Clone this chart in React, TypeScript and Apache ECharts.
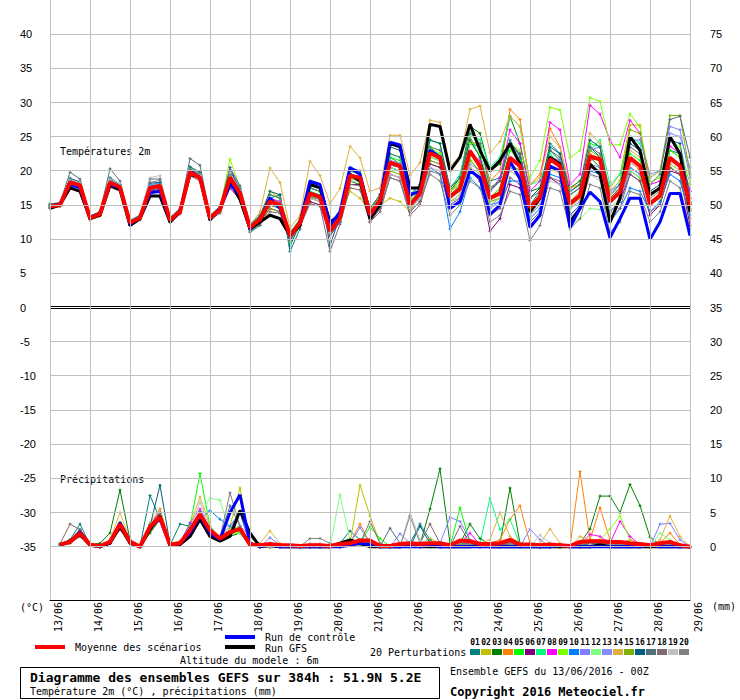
import React, { useEffect, useRef } from "react";
import * as echarts from "echarts";

// ---------- tick labels ----------
const DATE_LABELS = ["13/06", "14/06", "15/06", "16/06", "17/06", "18/06", "19/06", "20/06", "21/06", "22/06", "23/06", "24/06", "25/06", "26/06", "27/06", "28/06", "29/06"];
const DAY_TICKS = [0, 4, 8, 12, 16, 20, 24, 28, 32, 36, 40, 44, 48, 52, 56, 60, 64];
const TEMP_TICKS = [-35, -30, -25, -20, -15, -10, -5, 0, 5, 10, 15, 20, 25, 30, 35, 40];
const PERT_NUMBERS = ["01", "02", "03", "04", "05", "06", "07", "08", "09", "10", "11", "12", "13", "14", "15", "16", "17", "18", "19", "20"];
const PERT_COLORS = ["#008080", "#c0c000", "#008000", "#ff8000", "#00ff00", "#800080", "#00ff80", "#ff00ff", "#80ff00", "#0080ff", "#8080ff", "#80ff80", "#8888ff", "#e0b040", "#80b000", "#006080", "#507078", "#806870", "#c0c0c0", "#808080"];

// ---------- temperature 2m (°C), every 6h from 13/06 00Z (65 values) ----------
const T_MEAN = [14.8,15.0,18.3,17.9, 13.1,13.7,18.3,17.6, 12.4,13.1,17.5,17.8, 12.8,14.0,19.8,19.0, 13.1,14.3,19.0,16.7, 11.7,12.9,15.5,15.0, 10.5,12.4,16.7,16.2, 11.2,13.1,19.3,19.0, 13.6,15.7,21.2,20.7, 15.0,16.7,22.6,21.9, 16.2,17.4,22.9,20.7, 16.0,16.7,21.9,20.7, 14.6,16.2,21.7,20.7, 15.2,16.4,22.1,21.7, 15.5,16.9,21.9,20.7, 15.2,16.4,21.9,20.7, 15.0];
const T_GFS = [14.5,15.0,17.5,17.0, 13.0,13.5,17.8,17.2, 12.0,13.0,16.3,16.3, 12.5,14.0,19.5,19.0, 12.8,14.5,18.5,15.8, 11.5,12.5,13.5,13.0, 10.5,12.0,18.0,17.5, 12.5,13.5,19.5,18.5, 13.0,15.0,24.0,23.5, 17.5,17.5,26.8,26.5, 20.0,22.0,26.8,23.0, 20.0,21.5,24.0,21.0, 14.0,16.0,22.0,21.0, 12.5,14.5,21.0,19.5, 12.5,16.0,25.0,23.0, 16.5,17.5,25.0,22.5, 14.0];
const T_CTRL = [14.8,15.2,18.0,17.5, 13.2,13.8,18.0,17.5, 12.2,13.2,16.8,17.0, 12.8,14.0,20.0,19.0, 13.0,14.5,18.0,16.5, 11.5,13.0,16.0,14.5, 10.5,12.5,18.5,18.0, 12.0,14.0,20.5,19.5, 13.5,15.5,24.2,23.8, 16.5,17.0,23.0,22.0, 14.5,15.5,20.0,19.0, 13.6,15.0,21.4,18.8, 11.7,13.5,20.7,20.0, 11.7,14.5,16.9,15.5, 10.2,13.0,16.0,16.0, 10.0,12.5,16.7,16.7, 10.5];
const T01 = [15.0,15.2,18.8,18.2, 13.0,13.5,18.0,17.5, 12.0,13.0,17.8,18.3, 12.5,13.8,20.2,19.5, 13.0,14.5,19.5,17.0, 11.0,12.0,16.0,16.5, 8.2,11.5,17.5,17.0, 11.5,13.5,19.0,18.5, 13.0,15.0,22.0,21.0, 15.5,17.0,23.5,22.0, 17.0,18.5,24.0,23.5, 18.5,19.0,24.5,22.0, 15.0,17.0,24.0,22.5, 16.5,17.5,23.5,22.0, 14.0,15.5,20.5,19.5, 16.0,17.0,23.0,22.5, 17.0];
const T02 = [14.6,14.9,18.0,17.6, 13.2,13.9,18.6,17.8, 12.6,13.2,17.2,17.5, 12.9,14.2,19.5,18.8, 13.4,14.8,19.8,17.3, 12.0,13.5,17.0,16.0, 11.0,12.8,15.5,15.0, 11.8,13.5,17.0,16.0, 14.0,15.0,16.0,15.5, 14.0,16.5,21.0,20.5, 15.5,16.0,21.5,20.0, 15.0,16.0,20.0,19.0, 13.5,15.5,20.5,19.5, 14.5,16.0,21.5,22.0, 17.5,19.5,26.7,26.7, 16.5,17.5,23.0,22.0, 16.0];
const T03 = [14.9,15.1,18.5,18.0, 13.3,13.9,18.8,17.9, 12.2,13.4,17.6,17.9, 12.6,14.1,20.0,19.3, 13.0,14.0,18.8,16.3, 11.5,12.5,15.0,14.5, 10.0,12.0,18.5,17.5, 11.0,12.5,18.5,18.0, 14.5,16.0,20.5,20.0, 16.0,17.5,22.0,21.5, 17.0,19.0,26.5,25.5, 20.0,21.0,28.0,24.0, 17.0,17.5,23.0,21.5, 17.5,18.5,22.0,20.5, 15.5,16.5,20.0,19.0, 15.0,16.0,20.5,19.5, 14.5];
const T04 = [14.5,14.8,18.2,17.8, 12.8,13.4,17.9,17.3, 12.3,13.0,17.0,17.6, 12.7,13.9,19.6,18.7, 13.2,14.3,18.5,16.5, 11.8,13.0,15.8,15.5, 10.8,12.5,16.0,15.5, 11.5,13.5,19.5,18.5, 13.5,15.5,21.0,20.5, 14.5,16.5,23.0,22.5, 17.0,18.0,24.5,23.5, 18.5,20.0,29.0,27.5, 18.0,19.5,26.2,23.5, 17.5,18.0,22.5,21.5, 16.0,17.5,21.5,20.0, 15.5,16.5,21.0,20.0, 15.0];
const T05 = [15.1,15.3,18.6,18.3, 13.0,13.8,18.4,17.8, 12.5,13.3,17.9,18.0, 13.0,14.3,20.4,19.6, 12.9,14.4,19.0,17.0, 11.5,13.0,15.5,15.5, 9.5,12.5,17.5,17.0, 11.0,13.0,20.0,19.5, 13.0,16.0,22.0,21.5, 15.0,17.5,24.5,24.0, 16.5,18.0,25.0,22.0, 16.0,17.5,23.0,21.5, 15.0,16.5,22.0,21.0, 15.0,16.0,24.0,23.5, 16.0,17.5,22.5,21.5, 15.5,16.5,23.0,22.0, 15.5];
const T06 = [14.7,15.0,18.0,17.5, 13.1,13.6,18.1,17.4, 12.4,13.0,17.0,17.3, 12.9,14.0,19.5,18.8, 13.3,14.0,17.5,15.8, 11.5,12.5,14.5,14.0, 10.2,12.0,15.5,15.0, 10.5,12.5,18.0,18.0, 12.5,14.5,19.5,19.0, 14.0,15.5,21.0,20.5, 15.0,16.0,20.5,18.5, 11.2,13.0,18.0,17.5, 12.0,13.5,19.0,18.0, 13.5,15.0,20.5,20.0, 14.0,15.5,19.5,18.5, 13.5,15.0,20.0,19.5, 12.0];
const T07 = [15.0,15.2,18.4,18.1, 13.4,14.0,18.5,17.7, 12.5,13.5,17.9,18.2, 13.0,14.2,19.9,19.2, 13.0,14.6,19.6,17.2, 12.0,13.5,16.5,16.0, 11.0,13.0,17.0,16.5, 11.5,13.5,20.0,19.5, 14.0,16.5,22.5,22.0, 16.0,18.0,23.0,22.5, 17.5,19.5,25.5,24.5, 20.5,22.0,28.0,26.5, 18.0,18.5,22.5,21.0, 17.0,18.0,23.0,24.5, 18.0,19.5,25.0,24.0, 16.5,17.5,22.0,21.0, 15.5];
const T08 = [14.7,15.1,18.1,17.7, 13.0,13.7,18.2,17.5, 12.6,13.2,17.4,17.6, 12.8,13.9,19.7,19.0, 13.1,14.4,20.5,17.0, 11.8,13.2,16.0,15.5, 10.5,12.5,16.5,16.0, 11.0,13.0,19.5,19.0, 13.5,15.5,21.5,21.0, 15.0,16.5,22.5,22.0, 16.5,17.0,22.5,21.5, 17.0,19.0,26.0,24.0, 17.0,18.5,27.1,26.0, 18.0,19.5,29.6,28.3, 24.5,22.0,27.4,25.5, 18.0,18.5,23.6,22.5, 17.0];
const T09 = [14.9,15.0,18.3,17.8, 13.1,13.6,18.4,17.9, 12.5,13.1,17.5,17.9, 12.6,14.0,19.9,19.1, 13.2,14.5,21.7,17.5, 12.0,13.0,15.5,15.0, 11.0,12.0,16.0,16.0, 11.0,13.0,19.0,19.5, 14.0,16.0,21.5,21.0, 15.5,17.5,23.5,22.5, 17.0,18.5,24.0,22.5, 17.5,18.5,24.0,23.0, 19.0,21.5,29.3,28.9, 21.9,23.0,30.7,30.2, 23.8,23.8,28.3,26.4, 18.3,19.0,24.5,23.5, 18.0];
const T10 = [14.6,14.9,18.1,17.8, 13.2,13.8,18.1,17.5, 12.3,13.1,17.2,17.5, 12.7,13.9,19.6,18.9, 13.0,14.1,18.6,16.5, 11.5,12.8,15.0,14.8, 10.0,12.0,16.0,15.5, 10.8,12.5,19.0,18.8, 13.5,15.5,20.5,20.0, 14.5,16.0,20.5,19.5, 11.5,14.0,19.0,17.5, 15.0,15.5,18.5,18.5, 13.0,14.5,19.5,19.0, 13.5,15.0,20.0,19.5, 12.5,14.5,17.5,17.0, 14.0,15.5,19.5,18.5, 13.5];
const T11 = [14.8,15.1,18.6,18.2, 13.0,13.8,18.6,17.9, 12.4,13.2,18.0,18.2, 12.9,14.1,20.1,19.3, 13.1,14.2,19.3,16.9, 11.8,13.0,15.8,15.2, 10.5,12.5,16.5,16.0, 11.3,13.2,19.5,19.2, 13.8,15.8,21.5,21.0, 15.2,17.0,22.8,22.0, 16.5,17.5,23.0,21.0, 16.0,17.0,22.0,21.0, 14.5,16.0,22.0,21.5, 15.5,16.5,23.0,23.5, 17.0,18.0,24.5,24.5, 19.5,20.0,26.5,26.0, 19.0];
const T12 = [14.9,15.0,18.2,17.9, 13.1,13.7,18.3,17.7, 12.4,13.0,17.4,17.8, 12.8,14.0,19.8,19.0, 13.0,14.2,18.8,16.6, 11.7,12.8,15.2,14.8, 10.4,12.3,16.2,15.8, 11.0,12.8,18.8,18.5, 13.2,15.0,20.5,20.0, 14.8,16.5,22.0,21.5, 16.0,17.0,22.0,19.5, 15.5,16.0,21.0,20.0, 14.0,15.5,20.5,20.0, 12.1,13.0,14.5,14.3, 14.5,16.0,20.0,19.0, 15.0,16.0,21.0,20.0, 14.5];
const T13 = [14.7,15.0,18.4,18.0, 13.2,13.8,18.5,17.8, 12.3,13.1,17.8,18.0, 12.7,13.9,19.9,19.1, 12.9,14.2,19.2,16.8, 11.6,12.7,15.3,15.0, 10.4,12.2,16.4,16.0, 11.2,13.0,19.2,18.8, 13.4,15.4,20.8,20.5, 14.6,16.2,21.5,21.0, 15.0,16.0,21.0,20.0, 14.5,15.5,20.5,19.5, 13.5,15.0,20.5,20.0, 14.5,15.5,21.0,20.5, 14.0,15.5,20.5,19.5, 15.5,16.5,25.5,25.0, 20.5];
const T14 = [14.6,15.0,18.0,17.7, 13.0,13.5,18.0,17.4, 12.2,13.0,17.3,17.6, 12.6,13.8,19.6,18.8, 13.0,14.0,19.0,16.5, 12.0,14.0,20.4,18.3, 11.6,13.5,21.4,19.3, 15.2,17.4,23.6,21.9, 17.0,17.5,25.2,25.2, 19.3,21.2,27.4,27.1, 20.7,22.0,29.0,29.5, 22.6,24.3,28.0,26.5, 18.0,19.0,25.0,23.5, 17.0,18.0,25.5,24.0, 16.5,17.5,23.0,22.0, 16.0,17.0,22.0,21.0, 16.0];
const T15 = [14.8,15.1,18.3,17.9, 13.1,13.7,18.2,17.6, 12.5,13.2,17.6,17.9, 12.8,14.1,19.9,19.1, 13.0,14.4,19.1,16.8, 11.2,12.2,14.5,14.0, 9.8,12.0,16.2,15.8, 10.8,12.8,19.0,18.5, 13.0,15.0,20.0,19.5, 14.5,16.0,21.5,21.0, 15.5,16.5,21.5,20.0, 15.5,16.0,21.0,20.0, 14.0,16.0,21.5,20.5, 15.5,17.0,23.0,22.0, 17.0,18.5,26.0,25.5, 19.0,20.0,28.1,28.1, 19.5];
const T16 = [14.9,15.2,18.9,18.4, 13.2,14.0,19.0,18.0, 12.4,13.4,18.2,18.3, 13.0,14.3,20.6,19.8, 13.2,14.6,20.0,17.4, 11.9,13.3,17.0,16.5, 9.0,12.2,17.8,17.5, 9.0,13.5,20.5,20.0, 14.5,16.5,23.5,23.0, 16.5,18.0,24.5,24.0, 17.5,19.0,24.5,22.0, 17.0,18.5,24.0,22.5, 16.0,17.5,23.5,22.5, 17.0,18.0,24.5,23.5, 16.5,18.0,24.0,23.0, 17.0,18.0,24.5,24.0, 16.0];
const T17 = [15.2,15.3,19.8,18.8, 13.4,14.0,20.3,18.5, 12.8,13.5,18.8,18.8, 13.2,14.5,21.8,20.8, 13.5,14.8,20.5,17.8, 12.2,13.5,16.5,16.0, 10.8,12.8,17.5,17.0, 12.0,13.5,20.0,19.5, 14.5,16.5,22.5,22.0, 16.0,17.5,23.5,23.0, 17.5,19.0,25.5,24.0, 17.5,18.5,24.0,22.5, 16.0,17.0,23.0,22.0, 16.5,17.5,23.5,22.5, 16.0,17.5,23.5,22.5, 18.0,19.5,27.5,28.0, 22.0];
const T18 = [14.5,14.8,17.8,17.4, 12.9,13.5,17.8,17.2, 12.2,12.8,16.8,17.2, 12.5,13.7,19.3,18.5, 12.8,13.8,18.0,16.0, 11.2,12.2,14.0,13.8, 9.8,11.8,15.2,14.8, 8.2,12.2,17.5,17.2, 12.5,14.0,19.0,18.5, 13.5,15.0,20.0,19.5, 14.5,15.5,20.0,18.5, 13.5,14.5,19.0,18.0, 12.5,14.0,19.0,18.5, 13.0,14.5,19.5,19.0, 13.0,14.5,19.5,18.5, 14.0,15.0,20.5,19.5, 13.0];
const T19 = [14.8,15.0,18.7,18.3, 13.1,13.9,18.8,18.1, 12.5,13.4,19.0,19.3, 12.9,14.1,20.0,19.3, 13.2,14.6,19.7,17.2, 11.7,13.0,15.8,15.2, 10.6,12.6,16.0,15.5, 11.0,13.0,18.5,18.5, 13.5,15.0,19.5,19.0, 14.5,16.0,20.5,20.0, 15.5,16.5,20.5,19.5, 15.0,16.0,20.0,19.0, 14.0,15.5,18.5,18.0, 15.0,16.0,19.5,18.5, 16.5,17.5,21.0,20.5, 15.5,16.5,21.5,20.0, 15.5];
const T20 = [14.6,14.9,18.5,18.0, 13.0,13.6,18.4,17.7, 12.3,13.1,18.3,18.6, 12.7,13.9,20.3,19.6, 13.0,14.3,19.4,16.9, 11.4,12.6,15.0,14.7, 10.3,12.2,16.3,15.8, 10.8,12.6,18.0,17.8, 12.8,14.5,19.0,18.5, 14.0,15.5,19.5,18.5, 13.5,15.0,18.5,17.5, 12.5,13.5,17.0,16.5, 9.8,12.0,17.5,17.0, 11.5,13.0,18.0,17.5, 11.0,12.5,17.0,16.5, 12.5,14.0,18.5,17.5, 11.5];

// ---------- precipitation (mm / 6h), from 13/06 06Z (64 values) ----------
const R_MEAN = [0.3,0.7,2.0,0.3, 0.1,0.7,3.3,0.7, 0.0,2.9,4.3,0.3, 0.5,2.4,4.7,2.4, 1.2,2.1,2.6,0.3, 0.2,0.4,0.2,0.2, 0.1,0.2,0.2,0.1, 0.4,0.5,0.9,0.9, 0.1,0.1,0.4,0.5, 0.4,0.5,0.5,0.2, 0.9,0.8,0.4,0.4, 0.5,1.0,0.3,0.3, 0.2,0.3,0.2,0.1, 0.7,0.8,0.8,0.7, 0.7,0.5,0.4,0.2, 0.5,0.7,0.2,0.0];
const R_GFS = [0.2,0.8,1.8,0.2, 0.0,0.5,3.0,0.5, 0.0,2.5,4.5,0.2, 0.3,1.5,4.0,1.5, 0.8,1.5,5.3,2.0, 0,0.2,0,0, 0,0,0,0, 0.5,1.0,0.5,0, 0,0,0,0.2, 0,0,0,0, 0,0,0.2,0, 0,0,0,0, 0,0,0,0, 0,0,0.3,0, 0,0,0,0, 0,0,0,0];
const R_CTRL = [0.3,0.6,2.2,0.3, 0.0,0.6,3.5,0.8, 0.0,3.0,4.0,0.2, 0.5,2.0,4.5,2.0, 1.0,5.0,7.6,0.5, 0,0.3,0,0, 0,0,0,0, 0,0.2,0.5,0.3, 0,0,0,0, 0,0.3,0,0, 0,0,0,0, 0,0,0,0, 0,0,0.2,0, 0,0,0,0, 0,0,0,0.3, 0,0,0,0];
const R01 = [0.3,1.0,3.3,0.3, 0.0,0.8,3.0,0.5, 0.0,7.5,4.0,0.2, 3.3,3.0,5.0,2.0, 1.0,2.0,2.5,0.2, 0.2,0.5,0.3,0, 0,0,0,0, 0.5,2.3,1.0,0.5, 0.3,0,0,0.5, 3.3,1.0,0,0, 0.5,0.3,0,0, 0.5,0.8,0,0, 0,0,0,0, 0.3,0.5,0.5,0.3, 0.5,0.3,0.2,0, 0.3,0.5,0,0];
const R02 = [0.2,0.5,1.5,0.2, 0.0,0.5,3.5,0.8, 0.0,2.5,4.5,0.3, 0.5,2.0,4.5,2.5, 1.5,3.0,8.6,0.5, 0,0.3,0,0, 0,0,0,0, 0.3,0.5,9.0,4.5, 0.5,0,0,0.3, 0.3,1.2,0.5,0, 0.5,0.5,0,0, 0.3,0.5,0,0, 0,0,0,0, 0.3,0.3,0.5,0.3, 0.5,0.3,0,0, 0.3,0.5,0,0];
const R03 = [0.3,0.8,2.0,0.3, 0.5,2.0,8.3,1.0, 0.0,2.0,4.0,0.2, 0.3,2.5,5.0,2.2, 1.0,1.5,2.0,0.2, 0,0,0,0, 0,0,0,0, 0,0.3,0.5,1.0, 0,0,0.3,0.3, 0.3,5.5,11.4,0.5, 0.5,3.3,1.2,0.3, 0.5,8.6,0.5,0, 0,0,0,0, 0.5,2.6,7.4,7.4, 5.0,9.1,6.0,1.4, 0.3,0.5,0,0];
const R04 = [0.3,0.5,1.8,0.2, 0.0,0.5,3.0,0.5, 0.0,3.0,5.5,0.5, 0.8,2.5,5.0,2.5, 1.0,2.0,2.5,0.3, 0,0.3,0,0, 0,0,0,0, 0.3,0.5,3.3,0.5, 0,0,0,0.3, 0.3,0.5,0,0, 0.3,0.3,0.5,0.5, 1.0,4.0,6.0,0.5, 0,0,0,0, 11.0,1.0,5.7,1.0, 0.5,0.3,0.3,0, 0.5,2.0,0.3,0];
const R05 = [0.4,0.8,2.0,0.3, 0.0,0.6,3.2,0.6, 0.0,2.8,4.5,0.3, 0.5,3.0,10.7,3.0, 1.0,2.0,2.0,0.2, 0,0,0,0, 0,0,0,0, 0.5,0.3,0.5,2.9, 1.2,0,0,0, 0,0.3,0,0, 5.7,0.5,0,0, 0,0.3,0,0, 0,0,0,0, 0,0,0,0, 0,0,0,0, 0,0.3,0,0];
const R06 = [0.2,0.6,1.5,0.2, 0.0,0.5,2.5,0.5, 0.0,2.5,4.0,0.2, 0.3,2.0,4.0,2.0, 1.0,2.0,2.5,0.2, 0,0,0,0, 0,0,0,0, 0,0.3,0.3,0, 0,0,0,0, 0,0,0.3,0, 0.3,0.5,0,0, 0,0,0,0, 0,0,0,0, 0,0,0.3,0.5, 0.3,0,0,0, 0.3,0,0,0];
const R07 = [0.3,0.8,2.5,0.3, 0.0,0.8,3.5,0.7, 0.0,3.0,4.5,0.3, 0.5,2.5,4.5,2.5, 1.5,2.5,3.0,0.3, 0,0.2,0,0, 0,0,0,0, 0,0.3,0.5,0.3, 0,0,0,0, 0.3,0.3,0,0, 0.3,0.5,0.5,7.1, 2.5,4.0,0.3,0, 0,0,0,0, 0,0.3,0.3,0, 0.3,0,0,0, 0,0.3,0,0];
const R08 = [0.2,0.7,2.0,0.4, 0.0,0.7,3.3,0.8, 0.0,3.2,5.0,0.4, 0.5,3.5,5.5,2.5, 1.5,2.5,5.0,0.4, 0,0,0,0, 0,0,0,0, 0.3,0.3,0.5,0.3, 0,0,0,0.5, 0.3,0.3,0,0, 0.5,2.0,0.3,0, 0.3,0.5,0,0, 0,0,0,0, 0.3,1.8,1.5,0.5, 3.7,1.5,0.3,0, 0.3,0.3,0,0];
const R09 = [0.3,0.6,1.8,0.3, 0.0,0.7,3.5,0.6, 0.0,2.6,4.2,0.3, 0.4,2.2,4.8,2.2, 1.2,1.8,2.2,0.2, 0,0,0,0, 0,0,0,0, 0,0.3,0.3,0, 0,0,0,0, 0,0,0,0, 0.3,0.3,0,0, 0,0.3,0,0, 0,0,0,0, 0.3,0.5,1.0,2.6, 4.5,1.0,0.3,0, 0.3,0.5,0,0];
const R10 = [0.3,0.7,2.0,0.3, 0.0,0.6,3.0,0.7, 0.0,2.8,4.2,0.3, 0.6,3.3,4.0,5.3, 4.0,3.0,5.0,0.5, 0,0,0,0, 0,0,0,0, 0.5,0.5,0.3,0, 0,0,0,0.3, 0,0,0,0, 0.3,0,0,0, 0,0.5,0,0, 0,0,0,0, 0,0,0,0, 0,0,0,0, 0,0,0,0];
const R11 = [0.3,0.8,2.2,0.3, 0.0,0.8,3.2,0.6, 0.0,3.0,4.4,0.3, 0.5,2.4,4.6,2.6, 1.3,2.0,2.6,0.3, 0,1.3,0.3,0, 0,0,0,0, 0.3,0.5,2.8,0.5, 0,0,1.9,0.5, 0.3,0.5,0.5,4.3, 3.7,1.0,0.3,0, 0.3,0.5,0,2.6, 1.0,0,0,0, 0.5,0.5,0.5,0.3, 0.5,0.3,0,0, 3.3,3.4,1.0,0];
const R12 = [0.2,0.6,1.6,0.2, 0.0,0.6,3.0,0.5, 0.0,2.7,4.0,0.2, 0.4,2.2,4.5,7.1, 6.8,2.0,2.0,0.2, 0,0,0,0, 0,0,0,0, 7.6,1.0,0.5,0, 0,0,0,0, 0,0,0,0, 0.3,0.3,0,0, 0.3,0.3,0,0, 0,0,0,0, 0.3,0.5,0.3,0.3, 0.5,0.3,0,0, 2.0,1.0,0,0];
const R13 = [0.3,0.7,2.1,0.3, 0.0,0.7,3.4,0.7, 0.0,2.9,4.4,0.3, 0.5,2.5,4.8,2.4, 1.1,2.2,2.7,0.3, 0,0.3,0,0, 0,0,0,0, 0,0.3,0.5,0.3, 0,0,0.3,0, 0,0.3,0,0, 0.5,0.3,0,0, 0,0.3,0,0, 0,0,0,0, 0,0.3,0.5,0.3, 0.3,0.5,0,0, 0.5,0.5,0,0];
const R14 = [0.4,0.9,2.4,0.4, 0.0,1.0,5.0,0.9, 0.0,3.5,5.5,0.4, 0.6,3.0,7.3,3.0, 1.4,2.5,2.8,0.5, 0.5,2.3,0.5,0, 0,0,0,0, 0.3,0.5,0.5,0.3, 0,0,0,0.3, 0.3,0.5,0.5,0, 0.5,0.5,0.5,1.0, 5.0,1.5,0.5,0, 0.5,2.6,0.5,0, 1.5,1.0,1.0,0.5, 0.5,1.0,0.5,0, 1.0,4.5,1.5,0];
const R15 = [0.3,0.6,1.7,0.2, 0.0,0.6,3.0,0.6, 0.0,2.6,4.0,0.3, 0.4,2.1,4.4,2.2, 1.1,2.0,2.4,0.3, 0,0,0,0, 0,0,0,0, 0,0.3,0.3,0.5, 0.3,0,0,0, 0.3,0.5,0,0, 0.3,0.3,0,0, 0,0.3,0,0, 0,0,0,0, 0.3,0.3,0.3,0.3, 0.3,0.3,0,0, 0.3,0.3,0,0];
const R16 = [0.3,0.8,2.2,0.3, 0.0,0.8,3.3,0.7, 0.0,3.0,9.0,0.4, 0.5,2.5,4.7,2.3, 1.2,2.2,2.6,0.3, 0,0,0,0, 0,0,0,0, 0.3,0.5,0.5,0.5, 0,0,0,0, 3.0,0.5,0,0, 0.3,0.3,0,0, 0.3,0.3,0,0, 0,0,0,0, 0,0.5,0.5,0.3, 0.3,0.3,0,0, 0.3,0.3,0,0];
const R17 = [0.4,1.0,2.5,0.4, 0.0,0.8,3.5,0.8, 0.0,3.2,4.8,0.4, 0.6,2.8,5.2,2.6, 1.4,6.0,3.0,0.4, 0,0,0,0, 0,0,0,0, 0,0.5,0.5,0.5, 0,2.7,0.5,0, 0.5,0.5,0,0, 0.5,0.5,0,0, 0.3,0.5,0,0, 0,0,0,0, 0.3,0.5,0.5,0.3, 0.5,0.3,0,0, 0.3,0.5,0,0];
const R18 = [0.4,3.3,2.5,0.3, 0.0,0.7,3.2,0.6, 0.0,2.8,4.3,0.3, 0.5,2.4,4.6,2.4, 1.2,2.0,2.5,0.3, 0,0,0,0, 0,0,0,0, 0,0.5,0.5,3.7, 0.5,0,0,0.5, 0.5,3.3,0.5,0, 3.0,0.5,0,0, 0.3,0.5,0,0, 0,0,0,0, 0,0.3,0.3,0, 0.3,0,0,0, 0.3,0.3,0,0];
const R19 = [0.3,0.7,2.0,0.3, 0.0,0.7,3.4,0.7, 0.0,2.9,4.5,0.3, 0.5,2.6,6.5,2.6, 1.2,2.3,2.6,0.3, 0,0,0,0, 0,0.5,0.5,0, 0,0.3,0.5,0.3, 0,0,0,5.0, 1.0,0.3,0,0, 0.3,0.3,0,0, 0,0.3,0,0, 1.7,0.5,0,0, 0,0.3,0.3,0.3, 0.3,0.3,0,0, 0.3,0.3,0,0];
const R20 = [0.3,0.8,2.1,0.3, 0.0,0.7,3.3,0.7, 0.0,3.0,4.3,0.3, 0.5,2.5,4.8,2.5, 1.3,7.9,3.0,1.5, 0,0.5,0.3,0, 0,1.2,1.2,0.5, 0,0.3,0.3,0, 0,0,0,4.5, 0.5,0.3,0,0, 0.3,0.3,0,0, 0,0.3,0,0, 0,0.3,0,0, 0,0,0.3,0.3, 0.3,0.3,0,0, 0.3,0.3,0,0];

const TEMP_PERTS = [T01, T02, T03, T04, T05, T06, T07, T08, T09, T10, T11, T12, T13, T14, T15, T16, T17, T18, T19, T20];
const RAIN_PERTS = [R01, R02, R03, R04, R05, R06, R07, R08, R09, R10, R11, R12, R13, R14, R15, R16, R17, R18, R19, R20];

const SANS = '"Liberation Sans", Arial, sans-serif';
const MONO = '"DejaVu Sans Mono", monospace';
const GRID_GRAY = "#c0c0c0";
const PLUS = "path://M1,0H2V1H3V2H2V3H1V2H0V1H1Z";

function lineSeries(name: string, values: number[], start: number, color: string, width: number, yAxisIndex: number, z: number, marker: boolean): any {
  return {
    type: "line",
    name,
    xAxisIndex: 0,
    yAxisIndex,
    z,
    data: values.map((v, i) => [i + start, v]),
    showSymbol: marker,
    showAllSymbol: true,
    symbol: marker ? PLUS : "none",
    symbolSize: 3,
    silent: true,
    animation: false,
    lineStyle: { color, width },
    itemStyle: { color, borderWidth: 0 },
  };
}

function txt(x: number, y: number, text: string, size = 10, weight: string = "normal", align: string = "left"): any {
  return {
    type: "text",
    x,
    y,
    silent: true,
    style: { text, fontFamily: MONO, fontSize: size, fontWeight: weight, fill: "#000", align, verticalAlign: "middle" },
  };
}

function buildOption(): any {
  const series: any[] = [];
  RAIN_PERTS.forEach((arr, k) => series.push(lineSeries("R" + PERT_NUMBERS[k], arr, 1, PERT_COLORS[k], 1, 1, 2, true)));
  series.push(lineSeries("R GFS", R_GFS, 1, "#000000", 3, 1, 3, false));
  series.push(lineSeries("R ctrl", R_CTRL, 1, "#0000ff", 3, 1, 3, false));
  series.push(lineSeries("R mean", R_MEAN, 1, "#ff0000", 4, 1, 4, false));
  TEMP_PERTS.forEach((arr, k) => series.push(lineSeries("T" + PERT_NUMBERS[k], arr, 0, PERT_COLORS[k], 1, 0, 2, true)));
  series.push(lineSeries("T GFS", T_GFS, 0, "#000000", 3, 0, 3, false));
  series.push(lineSeries("T ctrl", T_CTRL, 0, "#0000ff", 3, 0, 3, false));
  const mean = lineSeries("T mean", T_MEAN, 0, "#ff0000", 4, 0, 4, false);
  mean.markLine = {
    silent: true,
    symbol: ["none", "none"],
    label: { show: false },
    animation: false,
    data: [
      { yAxis: 0, lineStyle: { color: "#000000", width: 3, type: "solid" } },
      { yAxis: 0, lineStyle: { color: "#ffffff", width: 1, type: "solid" } },
    ],
  };
  series.push(mean);

  const graphic: any[] = [
    txt(60, 151, "Températures 2m"),
    txt(60, 479, "Précipitations"),
    txt(20, 607, "(°C)"),
    txt(712, 606, "(mm)"),
    { type: "line", silent: true, shape: { x1: 35, y1: 647, x2: 65, y2: 647 }, style: { stroke: "#ff0000", lineWidth: 4 } },
    txt(75, 647, "Moyenne des scénarios"),
    { type: "line", silent: true, shape: { x1: 225, y1: 637, x2: 255, y2: 637 }, style: { stroke: "#0000ff", lineWidth: 4 } },
    txt(265, 637, "Run de contrôle"),
    { type: "line", silent: true, shape: { x1: 225, y1: 647, x2: 255, y2: 647 }, style: { stroke: "#000000", lineWidth: 4 } },
    txt(265, 648, "Run GFS"),
    txt(180, 660, "Altitude du modele : 6m"),
    txt(370, 652, "20 Perturbations"),
    { type: "rect", silent: true, shape: { x: 20.5, y: 667.5, width: 419, height: 31 }, style: { fill: "rgba(0,0,0,0)", stroke: "#000", lineWidth: 1 } },
    txt(30, 677, "Diagramme des ensembles GEFS sur 384h : 51.9N 5.2E", 13, "bold"),
    txt(30, 691, "Température 2m (°C) , précipitations (mm)"),
    txt(450, 671, "Ensemble GEFS du 13/06/2016 - 00Z"),
    txt(450, 692, "Copyright 2016 Meteociel.fr", 12, "bold"),
  ];
  PERT_COLORS.forEach((c, k) => {
    graphic.push({ type: "rect", silent: true, shape: { x: 470 + k * 11, y: 649, width: 10, height: 6 }, style: { fill: c } });
    graphic.push(txt(475 + k * 11, 642, PERT_NUMBERS[k], 8, "bold", "center"));
  });

  return {
    animation: false,
    grid: [
      { left: 50, right: 50, top: -15, height: 630 },
      { left: 50, right: 50, top: 0, height: 600 },
      { left: 58, right: 42, top: 0, height: 600 },
    ],
    xAxis: [
      { gridIndex: 0, type: "value", min: 0, max: 64, show: false },
      {
        gridIndex: 1,
        type: "value",
        min: 0,
        max: 64,
        interval: 4,
        axisLine: { show: true, onZero: false, lineStyle: { color: "#000000", width: 1 } },
        axisTick: { show: false },
        splitLine: { show: false },
        axisLabel: { show: false },
      },
      {
        gridIndex: 2,
        type: "value",
        min: 0,
        max: 64,
        interval: 4,
        axisLine: { show: false },
        axisTick: { show: false },
        splitLine: { show: false },
        axisLabel: {
          rotate: 90,
          margin: 2,
          fontFamily: MONO,
          fontSize: 10,
          color: "#000",
          formatter: (v: number) => DATE_LABELS[Math.round(v / 4)] ?? "",
        },
      },
    ],
    yAxis: [
      {
        gridIndex: 0,
        type: "value",
        position: "left",
        min: -45,
        max: 45,
        interval: 5,
        axisLine: { show: false },
        axisTick: { show: false },
        splitLine: { show: false },
        axisLabel: {
          margin: 30,
          align: "left",
          fontFamily: SANS,
          fontSize: 11,
          color: "#000",
          formatter: (v: number) => (v >= -35 && v <= 40 ? String(Math.round(v)) : ""),
        },
      },
      {
        gridIndex: 0,
        type: "value",
        position: "right",
        min: -10,
        max: 80,
        interval: 5,
        axisLine: { show: false },
        axisTick: { show: false },
        splitLine: { show: false },
        axisLabel: {
          margin: 20,
          align: "left",
          fontFamily: SANS,
          fontSize: 11,
          color: "#000",
          formatter: (v: number) => (v >= 0 && v <= 75 ? String(Math.round(v)) : ""),
        },
      },
      { gridIndex: 1, type: "value", min: 0, max: 1, show: false },
      { gridIndex: 2, type: "value", min: 0, max: 1, show: false },
    ],
    series,
    graphic,
  };
}

export default function App() {
  const ref = useRef<HTMLDivElement>(null);
  useEffect(() => {
    if (!ref.current) return;
    const chart = echarts.init(ref.current, null, { renderer: "svg" });
    const option = buildOption();
    chart.setOption(option);
    // grid rules placed through the chart's own axis scales, drawn in the top layer
    const px = (finder: any, v: number) => Number(chart.convertToPixel(finder, v));
    const xL = px({ xAxisIndex: 0 }, 0);
    const xR = px({ xAxisIndex: 0 }, 64);
    const yT = px({ yAxisIndex: 2 }, 1);
    const yB = px({ yAxisIndex: 2 }, 0);
    const rules: any[] = [];
    TEMP_TICKS.forEach((v) => {
      const y = Math.floor(px({ yAxisIndex: 0 }, v)) + 0.5;
      if (v !== 0) rules.push({ type: "line", silent: true, z: 100, shape: { x1: xL, y1: y, x2: xR, y2: y }, style: { stroke: GRID_GRAY, lineWidth: 1 } });
    });
    DAY_TICKS.forEach((d) => {
      const x = Math.floor(px({ xAxisIndex: 1 }, d)) + 0.5;
      rules.push({ type: "line", silent: true, z: 100, shape: { x1: x, y1: yT, x2: x, y2: yB - 0.5 }, style: { stroke: GRID_GRAY, lineWidth: 1 } });
    });
    option.graphic = option.graphic.concat(rules);
    chart.setOption(option, true);
    return () => chart.dispose();
  }, []);
  return <div ref={ref} style={{ position: "absolute", left: 0, top: 0, width: 740, height: 700, background: "#fff" }} />;
}
